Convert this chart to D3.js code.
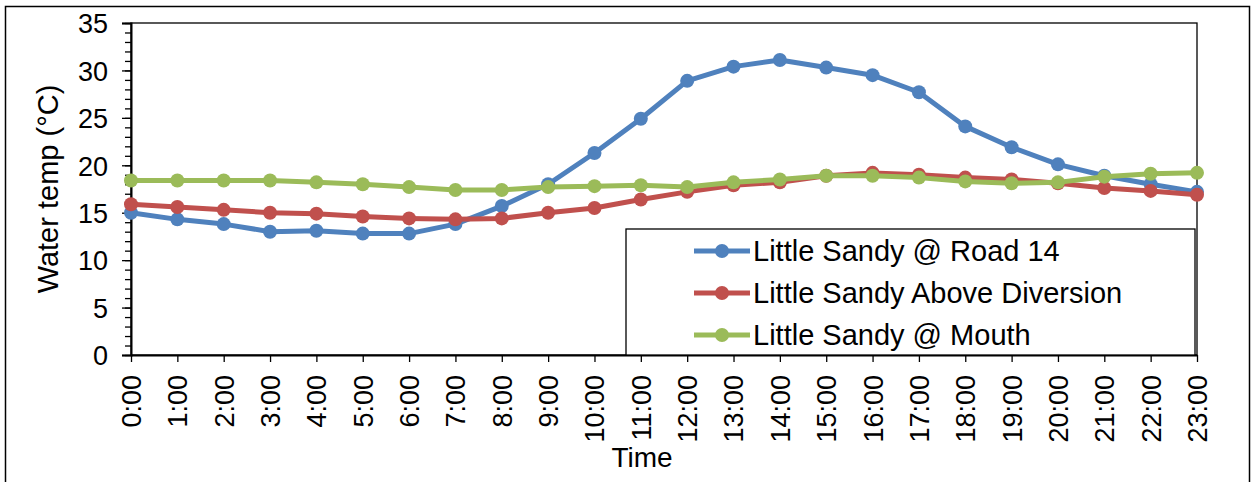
<!DOCTYPE html>
<html>
<head>
<meta charset="utf-8">
<script src="https://cdn.jsdelivr.net/npm/d3@7"></script>
<style>
  body { margin: 0; background: #fff; }
  svg { display: block; font-family: Arial, "Liberation Sans", sans-serif; }
</style>
</head>
<body>
<div id="chart"></div>
<script>
const hours = ['0:00','1:00','2:00','3:00','4:00','5:00','6:00','7:00','8:00','9:00','10:00','11:00',
  '12:00','13:00','14:00','15:00','16:00','17:00','18:00','19:00','20:00','21:00','22:00','23:00'];
const road14 = [15.0,14.3,13.8,13.0,13.1,12.8,12.8,13.8,15.7,18.0,21.3,24.9,28.9,30.4,31.1,30.3,29.5,27.7,24.1,21.9,20.1,18.9,18.0,17.2];
const aboveDiversion = [15.9,15.6,15.3,15.0,14.9,14.6,14.4,14.3,14.4,15.0,15.5,16.4,17.2,17.9,18.2,18.9,19.2,19.0,18.7,18.5,18.1,17.6,17.3,16.9];
const mouth = [18.4,18.4,18.4,18.4,18.2,18.0,17.7,17.4,17.4,17.7,17.8,17.9,17.7,18.2,18.5,18.9,18.9,18.7,18.3,18.1,18.2,18.8,19.1,19.2];
const seriesNames = ['Little Sandy @ Road 14', 'Little Sandy Above Diversion', 'Little Sandy @ Mouth'];
const yTicks = [0,5,10,15,20,25,30,35];

const w = 1254, h = 482;
const plotL = 131, plotR = 1197, plotT = 23, plotB = 355;
const colors = ['#4f81bd', '#c0504d', '#9bbb59'];
const series = [road14, aboveDiversion, mouth];
const font = 'Arial, "Liberation Sans", sans-serif';

const svg = d3.select('#chart').append('svg')
  .attr('width', w)
  .attr('height', h);

// outer frame
svg.append('rect')
  .attr('x', 5.5).attr('y', 6.5)
  .attr('width', 1244).attr('height', 480)
  .attr('fill', 'none').attr('stroke', '#000').attr('stroke-width', 1.5);

const x = d3.scalePoint().domain(hours).range([plotL, plotR]);
const y = d3.scaleLinear().domain([0, 35]).range([plotB, plotT]);

// plot frame
svg.append('rect')
  .attr('x', plotL).attr('y', plotT)
  .attr('width', plotR - plotL).attr('height', plotB - plotT)
  .attr('fill', 'none').attr('stroke', '#000').attr('stroke-width', 1.3);

// minor y ticks
svg.append('g')
  .attr('transform', 'translate(' + plotL + ',0)')
  .call(d3.axisLeft(y).tickValues(d3.range(0, 36, 1)).tickSize(6).tickFormat(''))
  .call(g => g.select('.domain').remove())
  .selectAll('line').attr('stroke', '#000').attr('stroke-width', 1.3);

const yAxis = svg.append('g')
  .attr('transform', 'translate(' + plotL + ',0)')
  .call(d3.axisLeft(y).tickValues(yTicks).tickSize(9).tickPadding(14));
yAxis.select('.domain').attr('stroke', '#000').attr('stroke-width', 2);
yAxis.selectAll('line').attr('stroke', '#000').attr('stroke-width', 1.3);
yAxis.selectAll('text').attr('font-size', 27).attr('fill', '#000')
  .attr('font-family', font).attr('dy', '0.36em');

const xAxis = svg.append('g')
  .attr('transform', 'translate(0,' + plotB + ')')
  .call(d3.axisBottom(x).tickSize(7).tickSizeOuter(0));
xAxis.select('.domain').attr('stroke', '#000').attr('stroke-width', 2);
xAxis.selectAll('line').attr('stroke', '#000').attr('stroke-width', 1.3);
xAxis.selectAll('text')
  .attr('font-size', 27).attr('fill', '#000')
  .attr('font-family', font)
  .attr('transform', 'rotate(-90)')
  .attr('text-anchor', 'end')
  .attr('x', -20).attr('y', 0).attr('dy', '0.35em');

// axis titles
svg.append('text')
  .attr('transform', 'translate(58,' + ((plotT + plotB) / 2) + ') rotate(-90)')
  .attr('text-anchor', 'middle')
  .attr('font-size', 29)
  .text('Water temp (°C)');
svg.append('text')
  .attr('x', 642).attr('y', 467)
  .attr('text-anchor', 'middle')
  .attr('font-size', 28)
  .text('Time');

const line = d3.line()
  .x((d, i) => x(hours[i]))
  .y(d => y(d));

series.forEach((s, k) => {
  svg.append('path')
    .datum(s)
    .attr('d', line)
    .attr('fill', 'none')
    .attr('stroke', colors[k])
    .attr('stroke-width', 5)
    .attr('stroke-linejoin', 'round');
  svg.append('g').selectAll('circle')
    .data(s)
    .enter()
    .append('circle')
    .attr('cx', (d, i) => x(hours[i]))
    .attr('cy', d => y(d))
    .attr('r', 7)
    .attr('fill', colors[k]);
});

// legend
const legend = svg.append('g');
legend.append('rect')
  .attr('x', 626).attr('y', 229)
  .attr('width', 569).attr('height', plotB - 229)
  .attr('fill', '#fff').attr('stroke', '#000').attr('stroke-width', 1.3);
seriesNames.forEach((name, k) => {
  const ly = 251 + k * 42;
  legend.append('line')
    .attr('x1', 694).attr('x2', 750)
    .attr('y1', ly).attr('y2', ly)
    .attr('stroke', colors[k]).attr('stroke-width', 5);
  legend.append('circle')
    .attr('cx', 722).attr('cy', ly).attr('r', 7)
    .attr('fill', colors[k]);
  legend.append('text')
    .attr('x', 753).attr('y', ly)
    .attr('dy', '0.36em')
    .attr('font-size', 29)
    .text(name);
});
</script>
</body>
</html>
